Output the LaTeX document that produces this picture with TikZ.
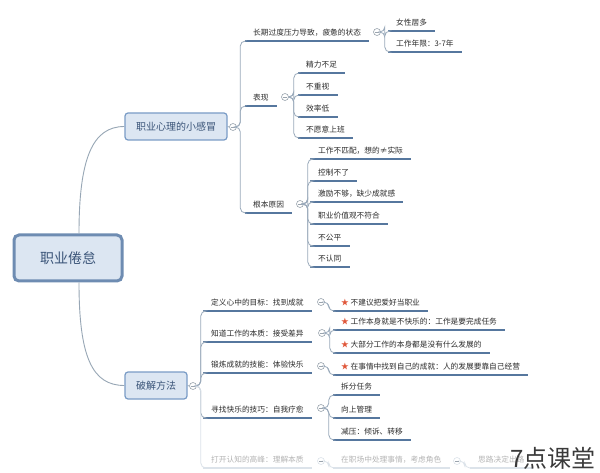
\documentclass[tikz,border=0pt]{standalone}
\usepackage{fontspec}
\setmainfont{Noto Sans CJK SC}
\definecolor{uln}{HTML}{56779E}
\definecolor{ulsh}{HTML}{C5D4E6}
\definecolor{spn}{HTML}{9AAABB}
\definecolor{mk}{HTML}{9AA4AE}
\definecolor{boxfill}{HTML}{DCE6F2}
\definecolor{boxdraw}{HTML}{7A9CC6}
\definecolor{boxtext}{HTML}{3A5478}
\definecolor{txt}{HTML}{2B2B2B}
\definecolor{fade}{HTML}{B4B4B4}
\definecolor{fadeul}{HTML}{DCE3EA}
\definecolor{starc}{HTML}{E0573A}
\definecolor{wmc}{HTML}{3A3A3A}
\begin{document}
\begin{tikzpicture}[x=1pt,y=-1pt,
  uline/.style={draw=uln,line width=1.5pt},
  fline/.style={draw=fadeul,line width=1.5pt},
  lab/.style={anchor=south west,inner xsep=8pt,inner ysep=3.5pt,text height=6.6pt,text depth=1.4pt,
    font=\fontsize{7.7}{8}\selectfont,text=txt,
    append after command={(\tikzlastnode.south west) edge[uline] (\tikzlastnode.south east)}},
  flab/.style={anchor=south west,inner xsep=8pt,inner ysep=3.5pt,text height=6.6pt,text depth=1.4pt,
    font=\fontsize{7.7}{8}\selectfont,text=fade,
    append after command={(\tikzlastnode.south west) edge[fline] (\tikzlastnode.south east)}},
  topic/.style={draw=boxdraw,fill=boxfill,line width=1.2pt,rounded corners=3pt,text=boxtext,
    font=\fontsize{10}{10}\selectfont,inner sep=0pt},
  rootbox/.style={draw=boxdraw!90!black,fill=boxfill,line width=3pt,rounded corners=5pt,text=boxtext,
    font=\fontsize{14}{14}\selectfont,inner sep=0pt,minimum width=108pt,minimum height=46pt},
  conn/.style={draw=spn,line width=0.8pt,rounded corners=5pt},
  fconn/.style={draw=fadeul,line width=0.8pt,rounded corners=5pt},
  rconn/.style={draw=spn!90!gray,line width=0.9pt},
  marker/.style={circle,draw=mk,fill=white,line width=0.6pt,minimum size=7pt,inner sep=0pt,
    path picture={\draw[mk,line width=0.6pt] ([xshift=-1.8pt]path picture bounding box.center) -- ([xshift=1.8pt]path picture bounding box.center);}},
  fmarker/.style={marker,draw=fadeul},
]
\fill[white] (0,0) rectangle (600,473);
\useasboundingbox (0,0) rectangle (600,473);

\newcommand{\st}{{\color{starc}★}\ }

% main topics
\node[rootbox] (root) at (68,258) {职业倦怠};
\node[topic,minimum width=102pt,minimum height=27pt] (boxA) at (176,126.5) {职业心理的小感冒};
\node[topic,minimum width=62pt,minimum height=27pt] (boxB) at (156,385.5) {破解方法};

\draw[rconn] ([xshift=11pt]root.north) .. controls +(0,-75) and +(-32,0) .. (boxA.west);
\draw[rconn] ([xshift=11pt]root.south) .. controls +(0,75) and +(-32,0) .. (boxB.west);

% markers
\node[marker] (mA) at (233,127) {};
\node[marker] (mA1) at (377,32) {};
\node[marker] (mA2) at (285,97) {};
\node[marker] (mA3) at (300,204) {};
\node[marker] (mB) at (193,386) {};
\node[marker] (mB1) at (321,302) {};
\node[marker] (mB2) at (322,333) {};
\node[marker] (mB3) at (321,366) {};
\node[marker] (mB4) at (321,408) {};
\node[fmarker] (mB5) at (321,461) {};
\node[fmarker] (mB51) at (457,461) {};

\draw[conn] (boxA.east) -- (mA.west);
\draw[conn] (boxB.east) -- (mB.west);

% branch A
\node[lab] (a1) at (245,41) {长期过度压力导致，疲惫的状态};
\node[lab] (a11) at (388,31) {女性居多};
\node[lab] (a12) at (388,52) {工作年限：3-7年};
\node[lab] (a2) at (245,106) {表现};
\node[lab] (a21) at (298,73) {精力不足};
\node[lab] (a22) at (298,95) {不重视};
\node[lab] (a23) at (298,117) {效率低};
\node[lab] (a24) at (298,138) {不愿意上班};
\node[lab] (a3) at (245,213) {根本原因};
\node[lab] (a31) at (310,159) {工作不匹配，想的≠实际};
\node[lab] (a32) at (310,181) {控制不了};
\node[lab] (a33) at (310,202) {激励不够，缺少成就感};
\node[lab] (a34) at (310,224) {职业价值观不符合};
\node[lab] (a35) at (310,246) {不公平};
\node[lab] (a36) at (310,267) {不认同};

\foreach \c in {a1,a2,a3} \draw[conn] (mA.east) -- ++(3.5,0) |- (\c.south west);
\foreach \c in {a11,a12} \draw[conn] (mA1.east) -- ++(4,0) |- (\c.south west);
\foreach \c in {a21,a22,a23,a24} \draw[conn] (mA2.east) -- ++(5,0) |- (\c.south west);
\foreach \c in {a31,a32,a33,a34,a35,a36} \draw[conn] (mA3.east) -- ++(4,0) |- (\c.south west);

% branch B
\node[lab] (b1) at (203,311) {定义心中的目标：找到成就};
\node[lab] (b11) at (333,311) {\st 不建议把爱好当职业};
\node[lab] (b2) at (203,342) {知道工作的本质：接受差异};
\node[lab] (b21) at (333,330) {\st 工作本身就是不快乐的：工作是要完成任务};
\node[lab] (b22) at (333,353) {\st 大部分工作的本身都是没有什么发展的};
\node[lab] (b3) at (203,373) {锻炼成就的技能：体验快乐};
\node[lab] (b31) at (333,375) {\st 在事情中找到自己的成就：人的发展要靠自己经营};
\node[lab] (b4) at (203,418) {寻找快乐的技巧：自我疗愈};
\node[lab] (b41) at (333,395) {拆分任务};
\node[lab] (b42) at (333,418) {向上管理};
\node[lab] (b43) at (333,440) {减压：倾诉、转移};
\node[flab] (b5) at (203,468) {打开认知的高峰：理解本质};
\node[flab] (b51) at (333,468) {在职场中处理事情，考虑角色};
\node[flab] (b511) at (470,468) {思路决定出路};

\foreach \c in {b1,b2,b3,b4} \draw[conn] (mB.east) -- ++(4,0) |- (\c.south west);
\draw[fconn] (mB.east) -- ++(4,0) |- (b5.south west);
\draw[conn] (mB1.east) -- ++(4,0) |- (b11.south west);
\foreach \c in {b21,b22} \draw[conn] (mB2.east) -- ++(4,0) |- (\c.south west);
\draw[conn] (mB3.east) -- ++(4,0) |- (b31.south west);
\foreach \c in {b41,b42,b43} \draw[conn] (mB4.east) -- ++(4,0) |- (\c.south west);
\draw[fconn] (mB5.east) -- ++(4,0) |- (b51.south west);
\draw[fconn] (mB51.east) -- ++(4,0) |- (b511.south west);

% watermark text
\node[anchor=west,inner sep=0pt,font=\fontsize{24}{24}\selectfont,text=wmc] (wm) at (510,458) {7点课堂};
\end{tikzpicture}
\end{document}
